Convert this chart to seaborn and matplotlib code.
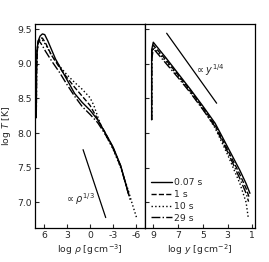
"""Temperature profiles vs density and column depth at four times."""

import matplotlib

matplotlib.use("Agg")
import matplotlib.pyplot as plt
import numpy as np
import pandas as pd
import seaborn as sns


TIMES = ["0.07 s", "1 s", "10 s", "29 s"]
STYLES = ["-", "--", ":", "-."]

# left panel: log rho vs log T
RHO_007 = [7.0, 6.97, 6.9, 6.75, 6.5, 6.2, 5.9, 5.5, 5.0, 4.5, 4.0, 3.0, 2.0, 1.0, 0.0, -1.0, -2.0, -3.0, -4.0, -5.0]
T_RHO_007 = [8.22, 8.9, 9.2, 9.33, 9.40, 9.43, 9.42, 9.33, 9.2, 9.07, 8.97, 8.77, 8.57, 8.44, 8.33, 8.19, 8.0, 7.8, 7.53, 7.13]
RHO_1 = [7.0, 6.97, 6.9, 6.75, 6.5, 6.2, 5.8, 5.0, 4.0, 3.0, 2.0, 1.0, 0.0, -1.0, -2.0, -3.0, -4.0, -5.15]
T_RHO_1 = [8.22, 8.85, 9.15, 9.3, 9.37, 9.37, 9.3, 9.12, 8.95, 8.8, 8.66, 8.53, 8.40, 8.2, 8.0, 7.79, 7.52, 7.08]
RHO_10 = [7.0, 6.97, 6.9, 6.75, 6.5, 6.2, 5.8, 5.0, 4.0, 3.0, 2.0, 1.0, 0.0, -0.5, -1.0, -1.5, -2.0, -3.0, -4.0, -5.0, -5.5, -6.1]
T_RHO_10 = [8.22, 8.85, 9.15, 9.3, 9.35, 9.34, 9.28, 9.12, 8.97, 8.84, 8.73, 8.63, 8.51, 8.4, 8.24, 8.09, 7.98, 7.77, 7.5, 7.17, 6.98, 6.77]
RHO_29 = [7.0, 6.97, 6.9, 6.75, 6.5, 6.2, 5.8, 5.0, 4.0, 3.0, 2.0, 1.0, 0.0, -1.0, -2.0, -3.0, -4.0, -5.3]
T_RHO_29 = [8.22, 8.9, 9.2, 9.33, 9.31, 9.26, 9.18, 9.04, 8.88, 8.7, 8.53, 8.38, 8.27, 8.15, 7.98, 7.78, 7.52, 7.01]

# right panel: log y vs log T
Y_007 = [9.13, 9.13, 9.0, 8.0, 7.0, 6.0, 5.0, 4.0, 3.0, 2.0, 1.5, 1.19]
T_Y_007 = [8.19, 9.2, 9.31, 9.09, 8.86, 8.63, 8.39, 8.14, 7.80, 7.46, 7.27, 7.13]
Y_1 = [9.13, 9.13, 9.0, 8.0, 7.0, 6.0, 5.0, 4.0, 3.0, 2.0, 1.5, 1.27]
T_Y_1 = [8.19, 9.15, 9.27, 9.06, 8.84, 8.61, 8.37, 8.11, 7.76, 7.40, 7.20, 7.08]
Y_10 = [9.13, 9.13, 9.0, 8.0, 7.0, 6.0, 5.0, 4.0, 3.0, 2.0, 1.5, 1.32]
T_Y_10 = [8.19, 9.1, 9.24, 9.04, 8.82, 8.59, 8.35, 8.07, 7.69, 7.27, 7.0, 6.77]
Y_29 = [9.13, 9.13, 9.0, 8.0, 7.0, 6.0, 5.0, 4.0, 3.0, 2.0, 1.5, 1.3]
T_Y_29 = [8.19, 9.05, 9.22, 9.01, 8.8, 8.58, 8.34, 8.09, 7.73, 7.34, 7.13, 7.01]

# power-law guide lines
RHO_GUIDE = [0.9, -2.05]
T_RHO_GUIDE = [7.76, 6.78]
Y_GUIDE = [7.92, 3.88]
T_Y_GUIDE = [9.44, 8.43]

RHO_TICKS = [6, 3, 0, -3, -6]
Y_TICKS = [9, 7, 5, 3, 1]
T_TICKS = [7.0, 7.5, 8.0, 8.5, 9.0, 9.5]

FS = 6.7

sns.set_style("ticks")
plt.rcParams.update({
    "font.family": ["DejaVu Sans"],
    "mathtext.fontset": "dejavusans",
    "axes.unicode_minus": False,
    "xtick.direction": "in",
    "ytick.direction": "in",
    "axes.edgecolor": "black",
    "axes.linewidth": 0.9,
    "xtick.major.size": 3,
    "ytick.major.size": 3,
    "xtick.major.width": 0.8,
    "ytick.major.width": 0.8,
})

fig = plt.figure(figsize=(2.69, 2.62), dpi=100)
ax_rho = fig.add_axes([0.130, 0.1286, 0.409, 0.7784])
ax_y = fig.add_axes([0.539, 0.1286, 0.409, 0.7784])

rho_series = [(RHO_007, T_RHO_007), (RHO_1, T_RHO_1), (RHO_10, T_RHO_10), (RHO_29, T_RHO_29)]
y_series = [(Y_007, T_Y_007), (Y_1, T_Y_1), (Y_10, T_Y_10), (Y_29, T_Y_29)]

for label, style, (xr, tr), (xy, ty) in zip(TIMES, STYLES, rho_series, y_series):
    left = pd.DataFrame({"x": xr, "T": tr})
    right = pd.DataFrame({"x": xy, "T": ty})
    sns.lineplot(data=left, x="x", y="T", ax=ax_rho, color="black", linestyle=style,
                 linewidth=1.0, sort=False, estimator=None)
    sns.lineplot(data=right, x="x", y="T", ax=ax_y, color="black", linestyle=style,
                 linewidth=1.0, sort=False, estimator=None, label=label)

ax_rho.plot(RHO_GUIDE, T_RHO_GUIDE, color="black", linewidth=0.9)
ax_y.plot(Y_GUIDE, T_Y_GUIDE, color="black", linewidth=0.9)
ax_rho.text(1.35, 7.04, r"$\propto\rho^{1/3}$", fontsize=7, ha="center", va="center")
ax_y.text(5.62, 8.91, r"$\propto y^{1/4}$", fontsize=7, ha="left", va="center")

for ax in (ax_rho, ax_y):
    ax.set_ylim(6.625, 9.568)
    ax.set_yticks(T_TICKS)
    ax.tick_params(labelsize=FS, pad=2)
    for side in ["top", "right", "left", "bottom"]:
        ax.spines[side].set_visible(True)

ax_rho.set_xlim(7.17, -7.17)
ax_rho.set_xticks(RHO_TICKS)
ax_rho.set_yticklabels([f"{t:.1f}" for t in T_TICKS])
ax_rho.set_xlabel(r"log $\rho$ [g$\,$cm$^{-3}$]", fontsize=FS, labelpad=2)
ax_rho.set_ylabel(r"log $T$ [K]", fontsize=FS, labelpad=3)

ax_y.set_xlim(9.67, 0.78)
ax_y.set_xticks(Y_TICKS)
ax_y.set_yticklabels([])
ax_y.set_ylabel("")
ax_y.set_xlabel(r"log $y$ [g$\,$cm$^{-2}$]", fontsize=FS, labelpad=2)
ax_y.legend(loc="lower left", frameon=False, fontsize=FS, handlelength=2.3,
            handletextpad=0.2, labelspacing=0.3, borderaxespad=0.2)

fig.savefig("out.png", dpi=100)
